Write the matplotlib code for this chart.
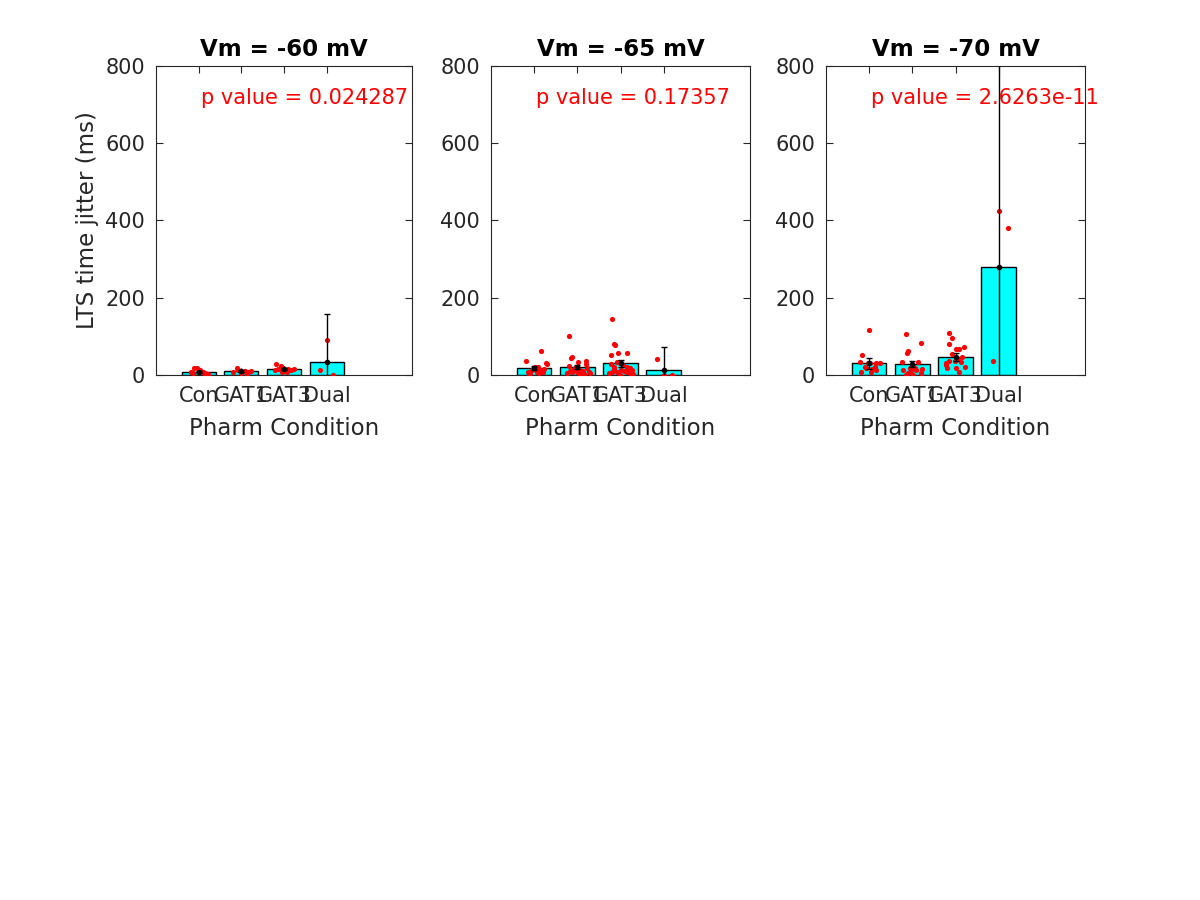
import numpy as np
import matplotlib
matplotlib.use("Agg")
from matplotlib import pyplot as plt

conditions = ['Con', 'GAT1', 'GAT3', 'Dual']
titles = ['Vm = -60 mV', 'Vm = -65 mV', 'Vm = -70 mV']
p_texts = ['p value = 0.024287', 'p value = 0.17357', 'p value = 2.6263e-11']

# bar heights (means) and error bar half widths
means_60 = [7, 10, 15, 34]
errs_60 = [3, 2, 3, 124]
means_65 = [18, 20, 30, 13.7]
errs_65 = [5, 5, 10, 58]
means_70 = [30, 28, 47, 280.7]
errs_70 = [14, 8, 10, 529]

# individual cells: values and x offsets from the bar centre
con_60 = [17, 18, 5, 13, 8, 5, 3, 0, 8, 4]
con_60_dx = [-0.1, -0.05, -0.14, 0.02, 0.09, 0.12, 0.21, 0.23, -0.19, 0.15]
gat1_60 = [19, 13, 8, 8, 10, 8, 10, 3, 5]
gat1_60_dx = [-0.1, -0.07, -0.19, 0.02, 0.09, 0.16, 0.23, 0.14, 0.0]
gat3_60 = [29, 24, 13, 15, 18, 10, 15, 13, 15, 8, 8]
gat3_60_dx = [-0.19, -0.07, -0.21, -0.14, -0.02, 0.02, 0.09, 0.16, 0.23, 0.07, -0.05]
dual_60 = [90, 13, 0]
dual_60_dx = [0.0, -0.16, 0.16]

con_65 = [37, 62, 31, 28, 21, 21, 13, 15, 8, 8, 13, 8, 5, 15, 3, 5]
con_65_dx = [-0.19, 0.16, 0.28, 0.3, 0.02, 0.09, -0.05, -0.02, -0.14, 0.07, 0.14, 0.21, -0.09, 0.23, -0.12, 0.12]
gat1_65 = [102, 44, 47, 23, 34, 36, 28, 18, 13, 10, 8, 8, 8, 5, 13, 18, 5, 8, 10, 0, 5, 5, 3]
gat1_65_dx = [-0.19, -0.14, -0.12, -0.19, 0.02, 0.19, 0.21, -0.05, 0.07, 0.14, -0.12, 0.26,
              -0.0, 0.12, -0.09, 0.23, 0.05, 0.28, -0.16, 0.07, -0.23, 0.3, 0.16]
gat3_65 = [145, 80, 78, 52, 57, 57, 34, 28, 31, 21, 26, 21, 18, 13, 10, 8, 13, 8, 0, 15, 5, 8, 10, 3, 5]
gat3_65_dx = [-0.19, -0.16, -0.12, -0.23, -0.05, 0.16, -0.09, -0.21, -0.02, -0.14, 0.05, 0.14,
              0.21, 0.02, 0.09, -0.07, 0.26, 0.16, -0.02, -0.14, 0.23, -0.19, 0.12, 0.28, -0.26]
dual_65 = [41, 0, 0]
dual_65_dx = [-0.16, 0.0, 0.19]

con_70 = [116, 52, 34, 31, 31, 31, 31, 21, 18, 15, 13, 8, 8, 21]
con_70_dx = [0.0, -0.16, -0.21, -0.02, 0.02, 0.16, 0.26, -0.09, -0.07, 0.07, 0.16, 0.05, -0.19, 0.14]
gat1_70 = [106, 83, 62, 57, 34, 34, 23, 18, 18, 15, 13, 10, 13, 5, 5, 0, 0, 8]
gat1_70_dx = [-0.14, 0.21, -0.09, -0.12, -0.23, 0.14, 0.02, -0.05, 0.07, 0.23, -0.21, -0.02,
              0.09, 0.19, -0.09, -0.14, 0.02, -0.05]
gat3_70 = [109, 96, 80, 73, 67, 67, 54, 47, 36, 36, 41, 31, 34, 18, 18, 21, 8, 26]
gat3_70_dx = [-0.14, -0.07, -0.16, 0.19, 0.0, 0.07, -0.09, 0.16, -0.14, -0.02, 0.05, -0.23,
              0.12, -0.19, 0.02, 0.21, 0.09, -0.23]
dual_70 = [425, 381, 36]
dual_70_dx = [0.0, 0.21, -0.12]

panels = [
    (means_60, errs_60, [con_60, gat1_60, gat3_60, dual_60], [con_60_dx, gat1_60_dx, gat3_60_dx, dual_60_dx]),
    (means_65, errs_65, [con_65, gat1_65, gat3_65, dual_65], [con_65_dx, gat1_65_dx, gat3_65_dx, dual_65_dx]),
    (means_70, errs_70, [con_70, gat1_70, gat3_70, dual_70], [con_70_dx, gat1_70_dx, gat3_70_dx, dual_70_dx]),
]

plt.rcParams['font.family'] = ['DejaVu Sans']
dark = '#262626'

fig = plt.figure(figsize=(12, 9), dpi=100)
lefts = [156, 491, 826]
widths = [256, 259, 259]
x = np.arange(1, 5)

for i, (means, errs, pts, dxs) in enumerate(panels):
    ax = fig.add_axes([lefts[i] / 1200, (900 - 375) / 900, widths[i] / 1200, 309 / 900])
    ax.bar(x, means, width=0.8, color='cyan', edgecolor='black', linewidth=1, zorder=2)
    for k in range(4):
        ax.scatter(x[k] + np.array(dxs[k]), pts[k], s=14, color='red', zorder=3, linewidths=0)
    ax.errorbar(x, means, yerr=errs, fmt='o', color='black', markersize=3,
                elinewidth=1, capsize=2.5, capthick=1, zorder=4)
    ax.set_xlim(0, 6)
    ax.set_ylim(0, 800)
    ax.set_xticks(x)
    ax.set_xticklabels(conditions)
    ax.set_yticks([0, 200, 400, 600, 800])
    ax.tick_params(direction='in', length=5, width=0.8, labelsize=15, colors=dark,
                   top=True, right=True, pad=8)
    for sp in ax.spines.values():
        sp.set_color(dark)
        sp.set_linewidth(0.8)
    ax.set_title(titles[i], fontsize=16.5, fontweight='bold', pad=7)
    ax.set_xlabel('Pharm Condition', fontsize=16.5, color=dark, labelpad=8)
    if i == 0:
        ax.set_ylabel('LTS time jitter (ms)', fontsize=16.5, color=dark, labelpad=4)
    ax.text(0.175, 0.896, p_texts[i], transform=ax.transAxes, color='red', fontsize=15,
            ha='left', va='center', clip_on=False)

fig.savefig('out.png', dpi=100)
